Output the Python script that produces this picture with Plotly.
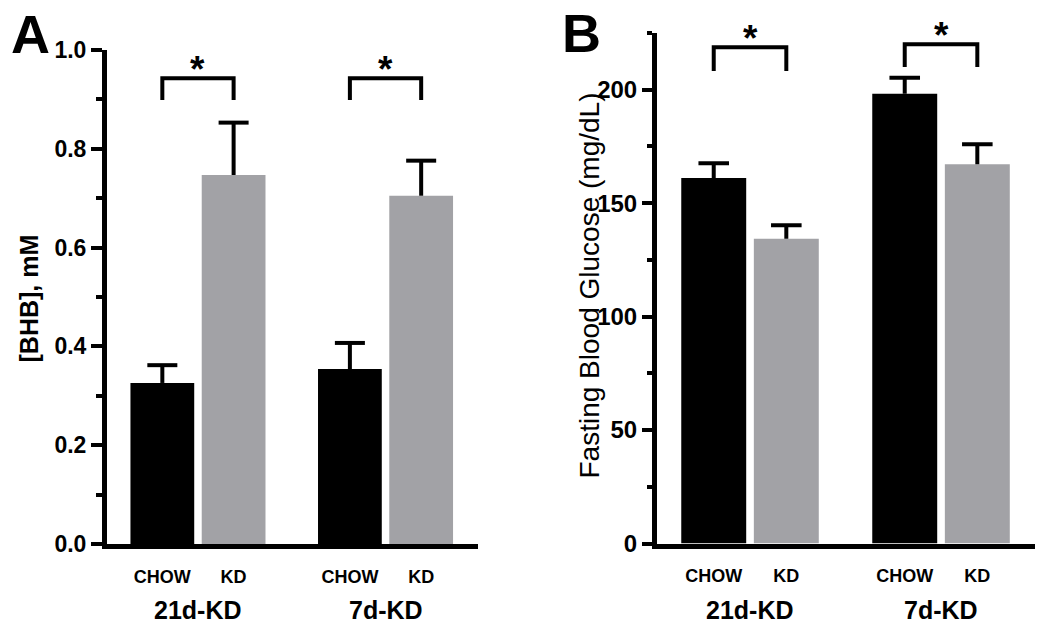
import plotly.graph_objects as go

# ---------------- data ----------------
groups = ["21d-KD", "7d-KD"]
diets = ["CHOW", "KD"]
diet_colors = ["#000000", "#a2a2a6"]

bhb_chow = [0.326, 0.354]
bhb_chow_err = [0.036, 0.053]
bhb_kd = [0.747, 0.705]
bhb_kd_err = [0.106, 0.071]

glu_chow = [161.1, 198.2]
glu_chow_err = [6.5, 7.1]
glu_kd = [134.3, 167.2]
glu_kd_err = [6.0, 8.8]

# significance brackets: (leg bottom, bracket top) per group
bhb_brackets = [(0.899, 0.943), (0.899, 0.943)]
glu_brackets = [(208.3, 218.7), (210.0, 220.0)]

bhb_ticks = [0, 0.2, 0.4, 0.6, 0.8, 1.0]
glu_ticks = [0, 50, 100, 150, 200]

# ---------------- layout helpers ----------------
W, H = 1050, 630
PAGE_OFF = 8  # default page margin of the html body
FONT = "Arial, Liberation Sans, sans-serif"
OFF = 0.19
BW = 0.34
CAP = 0.08
gidx = list(range(len(groups)))


def px_x(p):
    return (p - PAGE_OFF) / W


def px_y(p):
    return (H - (p - PAGE_OFF)) / H


fig = go.Figure()

panels = [
    dict(xa="x", ya="y", means=[bhb_chow, bhb_kd], errs=[bhb_chow_err, bhb_kd_err],
         brackets=bhb_brackets),
    dict(xa="x2", ya="y2", means=[glu_chow, glu_kd], errs=[glu_chow_err, glu_kd_err],
         brackets=glu_brackets),
]

for p in panels:
    for d, (name, color) in enumerate(zip(diets, diet_colors)):
        sign = -1 if d == 0 else 1
        xs = [g + sign * OFF for g in gidx]
        fig.add_trace(go.Bar(
            x=xs, y=p["means"][d], width=BW,
            marker=dict(color=color, line=dict(width=0)),
            xaxis=p["xa"], yaxis=p["ya"], name=name, showlegend=False,
        ))
        # upper-only error bars (stem + cap)
        ex, ey = [], []
        for xc, m, e in zip(xs, p["means"][d], p["errs"][d]):
            ex += [xc, xc, None, xc - CAP, xc + CAP, None]
            ey += [m, m + e, None, m + e, m + e, None]
        fig.add_trace(go.Scatter(
            x=ex, y=ey, mode="lines", line=dict(color="#000000", width=4),
            xaxis=p["xa"], yaxis=p["ya"], showlegend=False, hoverinfo="skip",
        ))
    # brackets + stars
    for g, (lo, hi) in zip(gidx, p["brackets"]):
        x0, x1 = g - OFF, g + OFF
        fig.add_shape(type="path",
                      path=f"M {x0} {lo} L {x0} {hi} L {x1} {hi} L {x1} {lo}",
                      xref=p["xa"], yref=p["ya"],
                      line=dict(color="#000000", width=4))
        fig.add_annotation(x=g, y=hi, xref=p["xa"], yref=p["ya"], text="<b>*</b>",
                           showarrow=False, xanchor="center", yanchor="middle", yshift=9,
                           font=dict(family=FONT, size=37, color="#000000"))
    # group labels
    for g, name in zip(gidx, groups):
        fig.add_annotation(x=g, y=px_y(610), xref=p["xa"], yref="paper",
                           text=f"<b>{name}</b>", showarrow=False,
                           xanchor="center", yanchor="middle",
                           font=dict(family=FONT, size=25, color="#000000"))

tickvals_x = [g + s * OFF for g in gidx for s in (-1, 1)]
ticktext_x = [diets[i % 2] for i in range(len(tickvals_x))]

xcommon = dict(showline=True, linewidth=5, linecolor="#000000", showgrid=False,
               zeroline=False, tickvals=tickvals_x, ticktext=ticktext_x,
               ticks="outside", ticklen=12, tickcolor="rgba(0,0,0,0)", automargin=False,
               tickfont=dict(family=FONT, size=18, color="#000000", weight="bold"))

fig.update_layout(
    template="none",
    width=W, height=H,
    margin=dict(l=0, r=0, t=0, b=0, autoexpand=False),
    paper_bgcolor="white", plot_bgcolor="white",
    showlegend=False,
    xaxis=dict(domain=[px_x(107), px_x(478)], range=[-0.485, 1.493],
               anchor="y", **xcommon),
    xaxis2=dict(domain=[px_x(657), px_x(1035)], range=[-0.487, 1.492],
                anchor="y2", **xcommon),
    yaxis=dict(domain=[px_y(544), px_y(50)], range=[0, 1.0], anchor="x",
               tickvals=bhb_ticks, ticktext=[f"{v:.1f}" for v in bhb_ticks],
               ticklen=11, automargin=False,
               minor=dict(dtick=0.1, ticks="outside", ticklen=6, tickwidth=4,
                          tickcolor="#000000", showgrid=False),
               tickfont=dict(family=FONT, size=23, color="#000000", weight="bold"),
               showline=True, linewidth=5, linecolor="#000000", showgrid=False,
               zeroline=False, ticks="outside", tickwidth=4, tickcolor="#000000"),
    yaxis2=dict(domain=[px_y(543.5), px_y(33)], range=[0, 225], anchor="x2",
                tickvals=glu_ticks, ticktext=[str(v) for v in glu_ticks],
                ticklen=10, automargin=False,
                minor=dict(dtick=25, ticks="outside", ticklen=5, tickwidth=4,
                           tickcolor="#000000", showgrid=False),
                tickfont=dict(family=FONT, size=24, color="#000000", weight="bold"),
                showline=True, linewidth=5, linecolor="#000000", showgrid=False,
                zeroline=False, ticks="outside", tickwidth=4, tickcolor="#000000"),
)

# axis titles and panel letters
fig.add_annotation(x=px_x(28), y=px_y(298.5), xref="paper", yref="paper",
                   text="<b>[BHB], mM</b>", textangle=-90, showarrow=False,
                   xanchor="center", yanchor="middle",
                   font=dict(family=FONT, size=25, color="#000000"))
fig.add_annotation(x=px_x(589), y=px_y(285.5), xref="paper", yref="paper",
                   text="Fasting Blood Glucose (mg/dL)", textangle=-90, showarrow=False,
                   xanchor="center", yanchor="middle",
                   font=dict(family=FONT, size=28, color="#000000"))
fig.add_annotation(x=px_x(30), y=px_y(34), xref="paper", yref="paper",
                   text="<b>A</b>", showarrow=False, xanchor="center", yanchor="middle",
                   font=dict(family=FONT, size=54, color="#000000"))
fig.add_annotation(x=px_x(581), y=px_y(33), xref="paper", yref="paper",
                   text="<b>B</b>", showarrow=False, xanchor="center", yanchor="middle",
                   font=dict(family=FONT, size=54, color="#000000"))

fig.write_html("out.html")
